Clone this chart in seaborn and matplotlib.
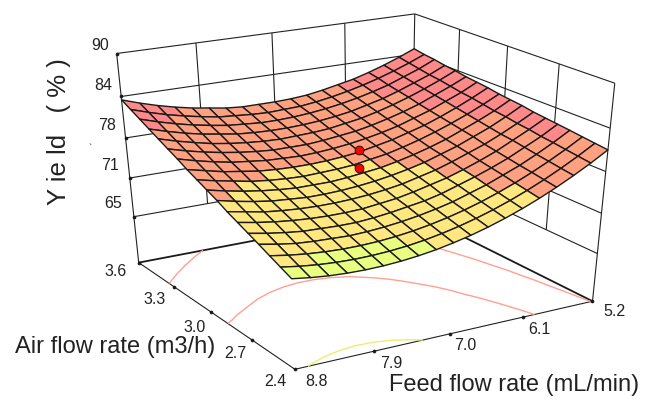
"""
Surface plot: yield against feed flow rate and air flow rate
"""

import numpy as np
import matplotlib
matplotlib.use('Agg')
import matplotlib.pyplot as plt
from matplotlib.colors import to_rgba
from mpl_toolkits.mplot3d.art3d import Line3DCollection
import seaborn as sns

# Data
FEED = [5.2, 5.4, 5.6, 5.8, 6.0, 6.2, 6.4, 6.6, 6.8, 7.0, 7.2, 7.4, 7.6, 7.8, 8.0, 8.2, 8.4, 8.6, 8.8]
AIR = [2.400, 2.471, 2.541, 2.612, 2.682, 2.753, 2.824, 2.894, 2.965,
       3.035, 3.106, 3.176, 3.247, 3.318, 3.388, 3.459, 3.529, 3.600]
# one row per air flow rate, one column per feed flow rate
YIELD = [
    [80.65, 79.17, 77.81, 76.55, 75.40, 74.36, 73.43, 72.61, 71.90, 71.31, 70.81, 70.44, 70.17, 70.01, 69.96, 70.02, 70.18, 70.46, 70.85],
    [80.86, 79.41, 78.07, 76.84, 75.72, 74.71, 73.81, 73.02, 72.34, 71.77, 71.30, 70.95, 70.71, 70.58, 70.55, 70.64, 70.83, 71.14, 71.56],
    [81.07, 79.65, 78.34, 77.14, 76.04, 75.06, 74.18, 73.42, 72.77, 72.23, 71.79, 71.47, 71.25, 71.15, 71.15, 71.27, 71.49, 71.82, 72.27],
    [81.3, 79.9, 78.6, 77.4, 76.4, 75.4, 74.6, 73.8, 73.2, 72.7, 72.3, 72.0, 71.8, 71.7, 71.8, 71.9, 72.1, 72.5, 73.0],
    [81.5, 80.1, 78.9, 77.7, 76.7, 75.8, 75.0, 74.2, 73.6, 73.2, 72.8, 72.5, 72.3, 72.3, 72.4, 72.5, 72.8, 73.2, 73.7],
    [81.7, 80.4, 79.2, 78.0, 77.0, 76.1, 75.3, 74.7, 74.1, 73.6, 73.3, 73.0, 72.9, 72.9, 73.0, 73.2, 73.5, 73.9, 74.4],
    [81.9, 80.6, 79.4, 78.3, 77.4, 76.5, 75.7, 75.1, 74.5, 74.1, 73.8, 73.6, 73.5, 73.5, 73.6, 73.8, 74.1, 74.6, 75.1],
    [82.2, 80.9, 79.7, 78.7, 77.7, 76.9, 76.1, 75.5, 75.0, 74.6, 74.3, 74.1, 74.0, 74.0, 74.2, 74.4, 74.8, 75.3, 75.9],
    [82.4, 81.1, 80.0, 79.0, 78.0, 77.2, 76.5, 75.9, 75.4, 75.1, 74.8, 74.6, 74.6, 74.6, 74.8, 75.1, 75.5, 76.0, 76.6],
    [82.6, 81.4, 80.3, 79.3, 78.4, 77.6, 76.9, 76.3, 75.9, 75.5, 75.3, 75.2, 75.1, 75.2, 75.4, 75.7, 76.2, 76.7, 77.3],
    [82.9, 81.7, 80.6, 79.6, 78.7, 78.0, 77.3, 76.8, 76.3, 76.0, 75.8, 75.7, 75.7, 75.8, 76.0, 76.4, 76.8, 77.4, 78.0],
    [83.1, 81.9, 80.9, 79.9, 79.1, 78.3, 77.7, 77.2, 76.8, 76.5, 76.3, 76.2, 76.3, 76.4, 76.7, 77.0, 77.5, 78.1, 78.8],
    [83.3, 82.2, 81.2, 80.2, 79.4, 78.7, 78.1, 77.6, 77.3, 77.0, 76.8, 76.8, 76.8, 77.0, 77.3, 77.7, 78.2, 78.8, 79.52],
    [83.6, 82.5, 81.5, 80.6, 79.8, 79.1, 78.5, 78.1, 77.7, 77.5, 77.4, 77.3, 77.4, 77.6, 77.9, 78.3, 78.87, 79.51, 80.26],
    [83.8, 82.7, 81.8, 80.9, 80.1, 79.5, 78.9, 78.5, 78.2, 78.0, 77.9, 77.9, 78.0, 78.2, 78.6, 79.0, 79.56, 80.23, 81.00],
    [84.1, 83.0, 82.1, 81.2, 80.5, 79.9, 79.4, 79.0, 78.7, 78.5, 78.4, 78.4, 78.6, 78.8, 79.2, 79.67, 80.25, 80.95, 81.75],
    [84.3, 83.3, 82.4, 81.6, 80.9, 80.3, 79.8, 79.4, 79.1, 79.0, 78.9, 79.0, 79.2, 79.4, 79.84, 80.34, 80.94, 81.67, 82.50],
    [84.6, 83.6, 82.7, 81.9, 81.2, 80.7, 80.2, 79.8, 79.6, 79.5, 79.5, 79.5, 79.7, 80.1, 80.48, 81.01, 81.64, 82.39, 83.25],
]
DESIGN_POINTS = [78.1, 75.4]  # yield at feed 7.0, air 3.0

FEED_TICKS = [8.8, 7.9, 7.0, 6.1, 5.2]
AIR_TICKS = [3.6, 3.3, 3.0, 2.7, 2.4]
Z_TICKS = [65, 71.25, 77.5, 83.75, 90]
Z_LABELS = ['65', '71', '78', '84', '90']
CONTOUR_LEVELS = [70.57, 75.67, 80.48]
BAND_LIMITS = [71.1, 75.67, 80.48]
BAND_COLORS = ['#E8FF80', '#FFE880', '#FFA080', '#FF8888']

# Configuration
W_PX, H_PX = 645, 405
FLOOR = 57.3
TEXT_COLOR = '#222222'

# Box corners and ticks as seen on the picture, used to calibrate the view
VIEW_ANCHORS = [
    ((8.8, 3.6, 90), (118, 54)), ((7.9, 3.6, 90), (192.7, 45)), ((7.0, 3.6, 90), (266.7, 35)),
    ((6.1, 3.6, 90), (340, 25)), ((5.2, 3.6, 90), (413, 15)), ((5.2, 3.3, 90), (463, 32)),
    ((5.2, 3.0, 90), (513, 49)), ((5.2, 2.7, 90), (563, 67)), ((5.2, 2.4, 90), (614, 84)),
    ((8.8, 3.6, FLOOR), (137, 262)), ((8.8, 3.3, FLOOR), (176.7, 289)), ((8.8, 3.0, FLOOR), (216, 316.7)),
    ((8.8, 2.7, FLOOR), (256, 343)), ((8.8, 2.4, FLOOR), (295, 370)), ((7.9, 2.4, FLOOR), (370, 353)),
    ((7.0, 2.4, FLOOR), (444, 336)), ((6.1, 2.4, FLOOR), (519, 318)), ((5.2, 2.4, FLOOR), (593, 302)),
    ((5.2, 3.6, FLOOR), (413, 211)), ((8.8, 3.6, 83.75), (123, 94)), ((8.8, 3.6, 77.5), (127.5, 133)),
    ((8.8, 3.6, 71.25), (130, 173)), ((8.8, 3.6, 65), (132, 213)), ((5.2, 2.4, 83.75), (609, 125)),
    ((5.2, 2.4, 77.5), (606, 166)), ((5.2, 2.4, 71.25), (603, 208)), ((5.2, 2.4, 65), (598, 250)),
]


def view_matrix():
    """Projection from data coordinates to picture pixels (the chart is not a true camera view)"""
    norm = np.array([[1 / 3.6, 0, 0, -5.2 / 3.6], [0, 1 / 1.2, 0, -2],
                     [0, 0, 1 / 32.7, -FLOOR / 32.7], [0, 0, 0, 1]])
    rows = []
    for world, (x, y) in VIEW_ANCHORS:
        p = norm @ np.array([*world, 1.0])
        rows.append([*p, 0, 0, 0, 0, *(-x * p)])
        rows.append([0, 0, 0, 0, *p, *(-y * p)])
    scale = np.array([1] * 8 + [500] * 4)
    h = np.linalg.svd(np.array(rows) / scale)[2][-1] / scale
    h = (h / h[8:12].sum()).reshape(3, 4)
    return np.vstack([h[0], h[1], [-1, 1, -0.5, 0], h[2]]) @ norm


def put_text(fig, x, y, s, **kwargs):
    fig.text(x / W_PX, 1 - y / H_PX, s, va='center', color=TEXT_COLOR, **kwargs)


sns.set_theme(style='white')
plt.rcParams['font.family'] = ['Liberation Sans', 'DejaVu Sans']

fig = plt.figure(figsize=(W_PX / 100, H_PX / 100), dpi=100)
ax = fig.add_axes([0, 0, 1, 1], projection='3d', computed_zorder=False)
ax.set_axis_off()
ax.set_xlim(8.8, 5.2)
ax.set_ylim(2.4, 3.6)
ax.set_zlim(FLOOR, 90)
ax.set_proj_type('ortho')
matrix = view_matrix()
ax.get_proj = lambda: matrix
ax.apply_aspect = lambda position=None: None
ax.viewLim.intervalx = (0, W_PX)
ax.viewLim.intervaly = (H_PX, 0)

X, Y = np.meshgrid(FEED, AIR)
Z = np.array(YIELD)

# Back walls and floor
segments = []
for z in Z_TICKS:
    segments.append([(8.8, 3.6, z), (5.2, 3.6, z)])
    segments.append([(5.2, 3.6, z), (5.2, 2.4, z)])
for f in FEED_TICKS[1:-1]:
    segments.append([(f, 3.6, 65), (f, 3.6, 90)])
for a in AIR_TICKS[1:-1]:
    segments.append([(5.2, a, 65), (5.2, a, 90)])
segments += [[(8.8, 3.6, FLOOR), (8.8, 3.6, 90)], [(5.2, 3.6, FLOOR), (5.2, 3.6, 90)],
             [(5.2, 2.4, FLOOR), (5.2, 2.4, 90)], [(8.8, 3.6, FLOOR), (8.8, 2.4, FLOOR)],
             [(8.8, 2.4, FLOOR), (5.2, 2.4, FLOOR)]]
ax.add_collection3d(Line3DCollection(segments, colors='#222222', linewidths=0.8, zorder=1))
ax.add_collection3d(Line3DCollection([[(8.8, 3.6, FLOOR), (5.2, 3.6, FLOOR)], [(5.2, 3.6, FLOOR), (5.2, 2.4, FLOOR)]],
                                     colors='k', linewidths=1.3, zorder=1))
ax.contour(X, Y, Z, levels=CONTOUR_LEVELS, zdir='z', offset=FLOOR,
           colors=['#E8F070', '#FFA090', '#FFA090'], linewidths=1, zorder=2)

# Tick dots
ax.scatter([8.8] * 5, [3.6] * 5, Z_TICKS, c='k', s=7, linewidths=0, depthshade=False, zorder=3)
ax.scatter([8.8] * 5, AIR_TICKS, [FLOOR] * 5, c='k', s=7, linewidths=0, depthshade=False, zorder=3)
ax.scatter(FEED_TICKS[1:], [2.4] * 4, [FLOOR] * 4, c='k', s=7, linewidths=0, depthshade=False, zorder=3)

# Surface, one flat colour per cell
cell = (Z[:-1, :-1] + Z[1:, :-1] + Z[:-1, 1:] + Z[1:, 1:]) / 4
colors = np.array([to_rgba(c) for c in BAND_COLORS])[np.searchsorted(BAND_LIMITS, cell)]
ax.plot_surface(X, Y, Z, facecolors=colors, shade=False, edgecolor='k', linewidth=1.0,
                rstride=1, cstride=1, zorder=5)

ax.scatter([7.0, 7.0], [3.0, 3.0], DESIGN_POINTS, c='#FF0000', s=40, edgecolors='k', linewidths=0.7,
           depthshade=False, zorder=6)

# Texts
for label, x, y in zip(Z_LABELS, [122, 119, 116, 112, 109], [204, 165, 125, 85, 45]):
    put_text(fig, x, y, label, ha='right', fontsize=11.5)
for tick, x, y in zip(AIR_TICKS, [116, 155, 195, 235, 275], [272, 300, 327, 354, 382]):
    put_text(fig, x, y, f'{tick:.1f}', ha='center', fontsize=11.5)
for tick, x, y in zip(FEED_TICKS, [316, 391, 465, 539, 614], [382, 363, 346, 329, 312]):
    put_text(fig, x, y, f'{tick:.1f}', ha='center', fontsize=11.5)
put_text(fig, 15, 347, 'Air flow rate (m3/h)', ha='left', fontsize=17)
put_text(fig, 389, 385, 'Feed flow rate (mL/min)', ha='left', fontsize=17)
put_text(fig, 59, 132, 'Y ie ld   ( % )', ha='center', rotation=90, fontsize=18.5)
put_text(fig, 90, 149, '`', ha='center', fontsize=7)

plt.savefig('out.png', dpi=100)
plt.close()
